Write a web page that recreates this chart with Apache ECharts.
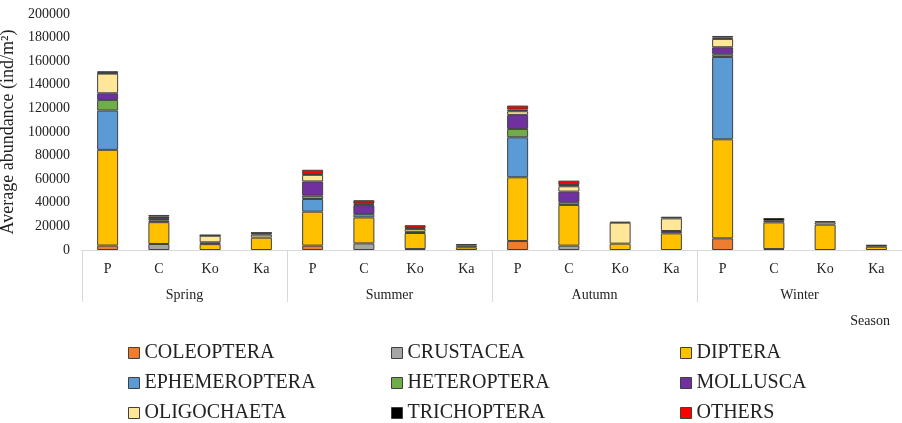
<!doctype html>
<html>
    <head>
        <meta charset="utf-8">
        <title>Average abundance by season</title>
        <style>
            html, body { margin: 0; padding: 0; background: #fff; }
            #main { width: 902px; height: 423px; }
        </style>
    </head>
    <body>
        <div id="main"></div>
        <script src="https://cdn.jsdelivr.net/npm/echarts@6/dist/echarts.min.js"></script>
        <script>
            var chart = echarts.init(document.getElementById('main'));

            // sites repeated per season
            var sites = ['P', 'C', 'Ko', 'Ka'];
            var seasons = ['Spring', 'Summer', 'Autumn', 'Winter'];

            // values in order Spring P,C,Ko,Ka | Summer ... | Autumn ... | Winter ...
            var coleoptera    = [3800, 0, 0, 0,      3700, 0, 800, 0,        7600, 0, 0, 0,          9900, 0, 0, 0];
            var crustacea     = [0, 5100, 0, 0,      0, 5600, 0, 0,          0, 3700, 0, 0,          0, 800, 0, 0];
            var diptera       = [81100, 18500, 5000, 10500, 28800, 22000, 13600, 2300, 54000, 34500, 5400, 14100, 83900, 22600, 21500, 2800];
            var ephemeroptera = [33300, 1400, 0, 0,  10700, 2800, 0, 0,      33900, 2300, 0, 0,      69800, 0, 0, 0];
            var heteroptera   = [9000, 0, 0, 0,      2800, 0, 0, 0,          7100, 0, 0, 0,          2300, 0, 0, 0];
            var mollusca      = [5600, 1200, 1500, 0, 12100, 7600, 1000, 0,  11900, 9000, 0, 2000,   5900, 1400, 0, 0];
            var oligochaeta   = [16700, 600, 5600, 2500, 5600, 700, 2300, 1400, 3100, 4500, 17800, 10700, 7100, 0, 2000, 0];
            var trichoptera   = [500, 1500, 300, 1500, 600, 700, 1000, 1400, 1400, 1100, 600, 1400, 1100, 2300, 1000, 1700];
            var others        = [1500, 1400, 300, 200, 3700, 2800, 2300, 0,  3400, 3700, 0, 0,       1400, 0, 0, 0];

            var groups = [
                ['COLEOPTERA', coleoptera, '#ED7D31'],
                ['CRUSTACEA', crustacea, '#A5A5A5'],
                ['DIPTERA', diptera, '#FFC000'],
                ['EPHEMEROPTERA', ephemeroptera, '#5B9BD5'],
                ['HETEROPTERA', heteroptera, '#70AD47'],
                ['MOLLUSCA', mollusca, '#7030A0'],
                ['OLIGOCHAETA', oligochaeta, '#FFE699'],
                ['TRICHOPTERA', trichoptera, '#000000'],
                ['OTHERS', others, '#FF0000']
            ];

            var categories = [];
            seasons.forEach(function (s) {
                sites.forEach(function (p) { categories.push(p); });
            });

            var font = 'Liberation Serif';
            var textColor = '#222';
            var lineColor = '#d9d9d9';

            var series = groups.map(function (g) {
                return {
                    name: g[0],
                    type: 'bar',
                    stack: 'total',
                    barWidth: 21,
                    xAxisIndex: 0,
                    itemStyle: {
                        color: g[2],
                        borderColor: '#404040',
                        borderWidth: 1
                    },
                    data: g[1].map(function (v) { return v === 0 ? '-' : v; })
                };
            });

            // one vertical legend per column so the reading order matches the original
            function legendCol(left, names) {
                return {
                    orient: 'vertical',
                    left: left,
                    top: 343,
                    height: 120,
                    padding: 0,
                    itemWidth: 11,
                    itemHeight: 11,
                    itemGap: 10,
                    icon: 'rect',
                    itemStyle: { borderColor: '#404040', borderWidth: 1 },
                    textStyle: { fontFamily: font, fontSize: 20, color: textColor },
                    data: names
                };
            }

            chart.setOption({
                animation: false,
                textStyle: { fontFamily: font },
                grid: { left: 82, right: 0, top: 14, bottom: 173, outerBoundsMode: 'none' },
                legend: [
                    legendCol(128, ['COLEOPTERA', 'EPHEMEROPTERA', 'OLIGOCHAETA']),
                    legendCol(391, ['CRUSTACEA', 'HETEROPTERA', 'TRICHOPTERA']),
                    legendCol(680, ['DIPTERA', 'MOLLUSCA', 'OTHERS'])
                ],
                xAxis: [{
                    type: 'category',
                    data: categories,
                    position: 'bottom',
                    axisLine: { lineStyle: { color: lineColor } },
                    axisTick: { show: false },
                    axisLabel: { fontFamily: font, fontSize: 14, color: textColor, margin: 12 }
                }, {
                    type: 'category',
                    data: seasons,
                    position: 'bottom',
                    boundaryGap: true,
                    axisLine: { show: false },
                    axisTick: { show: true, length: 52, lineStyle: { color: lineColor } },
                    axisLabel: { fontFamily: font, fontSize: 14, color: textColor, margin: 38 },
                    name: 'Season',
                    nameLocation: 'end',
                    nameGap: 0,
                    nameTextStyle: {
                        fontFamily: font, fontSize: 14, color: textColor,
                        align: 'right', verticalAlign: 'top', padding: [64, 12, 0, 0]
                    }
                }],
                yAxis: {
                    type: 'value',
                    min: 0,
                    max: 200000,
                    interval: 20000,
                    splitLine: { show: false },
                    axisLine: { show: false },
                    axisTick: { show: false },
                    axisLabel: {
                        fontFamily: font, fontSize: 14, color: textColor, margin: 12,
                        formatter: function (v) { return String(v); }
                    },
                    name: 'Average abundance (ind/m²)',
                    nameLocation: 'middle',
                    nameGap: 55,
                    nameTextStyle: { fontFamily: font, fontSize: 18, color: textColor }
                },
                series: series
            });

            window.addEventListener('resize', function () {
                chart.resize();
            });
        </script>
    </body>
</html>
